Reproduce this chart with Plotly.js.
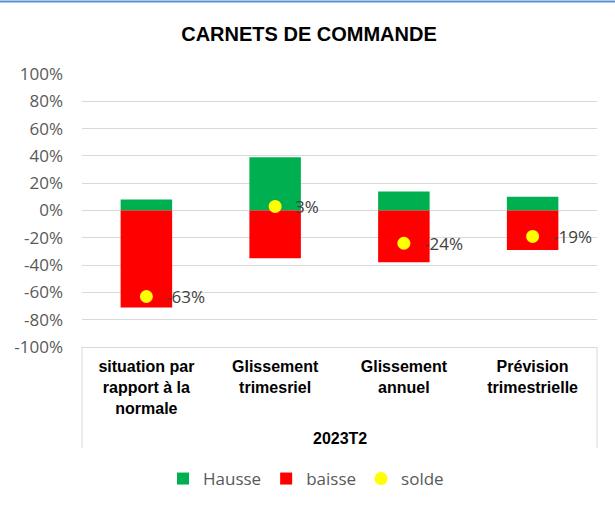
<!DOCTYPE html>
<html>
<head>
<meta charset="utf-8">
<script src="https://cdn.plot.ly/plotly-3.0.1.min.js"></script>
<style>
html,body{margin:0;padding:0;background:#fff;}
#chart{width:615px;height:506px;}
</style>
</head>
<body>
<div id="chart"></div>
<script>
var categories = [
  "situation par<br>rapport à la<br>normale",
  "Glissement<br>trimesriel",
  "Glissement<br>annuel",
  "Prévision<br>trimestrielle"
];
var hausse = [0.08, 0.39, 0.14, 0.10];
var baisse = [-0.71, -0.35, -0.38, -0.29];
var solde = [-0.63, 0.03, -0.24, -0.19];
var soldeLabels = ["-63%", "3%", "-24%", "-19%"];
var groupLabel = "2023T2";
var yTickVals = [-1, -0.8, -0.6, -0.4, -0.2, 0, 0.2, 0.4, 0.6, 0.8, 1];
var yTickText = ["-100%", "-80%", "-60%", "-40%", "-20%", "0%", "20%", "40%", "60%", "80%", "100%"];

var W = 615, H = 506;
var mL = 82, mR = 18, mT = 74, mB = 159;
var plotH = H - mT - mB;
function py(pix) { return (H - mB - pix) / plotH; }

var traces = [
  {type: "bar", name: "Hausse", x: categories, y: hausse, width: 0.4,
   marker: {color: "#00B050", line: {width: 0}}, hoverinfo: "none"},
  {type: "bar", name: "baisse", x: categories, y: baisse, width: 0.4,
   marker: {color: "#FF0000", line: {width: 0}}, hoverinfo: "none"},
  {type: "scatter", mode: "markers", name: "solde", x: categories, y: solde,
   marker: {color: "#FFFF00", size: 13, line: {width: 0}}, hoverinfo: "none"}
];

var annotations = categories.map(function (c, i) {
  return {x: c, y: solde[i], xref: "x", yref: "y", text: soldeLabels[i],
    showarrow: false, xanchor: "left", yanchor: "middle", xshift: 18,
    font: {family: "Open Sans", size: 17, color: "#404040"}};
});
annotations.push({x: 0.5, y: py(438), xref: "paper", yref: "paper", text: "<b>" + groupLabel + "</b>",
  showarrow: false, xanchor: "center", yanchor: "middle",
  font: {family: "Liberation Sans", size: 16, color: "#000000"}});

var layout = {
  width: W, height: H,
  margin: {l: mL, r: mR, t: mT, b: mB, pad: 0},
  paper_bgcolor: "#ffffff", plot_bgcolor: "#ffffff",
  barmode: "relative",
  showlegend: true,
  title: {text: "<b>CARNETS DE COMMANDE</b>", x: 309 / W, xanchor: "center",
    y: 1 - 34 / H, yanchor: "middle", yref: "container",
    font: {family: "Liberation Sans", size: 20, color: "#000000"}},
  xaxis: {type: "category", range: [-0.5, 3.5], showgrid: false, zeroline: false,
    showline: true, linecolor: "#d9d9d9", linewidth: 1, ticks: "",
    tickfont: {family: "Liberation Sans", size: 16, color: "#000000", weight: "bold"},
    ticklabelstandoff: 5, fixedrange: true},
  yaxis: {range: [-1, 1], tickvals: yTickVals, ticktext: yTickText,
    showgrid: true, gridcolor: "#d9d9d9", gridwidth: 1,
    zeroline: true, zerolinecolor: "#d9d9d9", zerolinewidth: 1,
    showline: false, ticks: "", ticklabelstandoff: 18,
    tickfont: {family: "Open Sans", size: 17, color: "#595959"}, fixedrange: true},
  legend: {orientation: "h", x: 306 / W, xref: "container", xanchor: "center",
    y: 1 - 479 / H, yref: "container", yanchor: "middle",
    font: {family: "Open Sans", size: 17, color: "#595959"},
    itemclick: false, itemdoubleclick: false, traceorder: "normal"},
  annotations: annotations,
  shapes: [
    {type: "line", xref: "paper", yref: "paper", x0: 0, x1: 0, y0: 0, y1: py(448),
     line: {color: "#d9d9d9", width: 1}},
    {type: "line", xref: "paper", yref: "paper", x0: 1, x1: 1, y0: 0, y1: py(448),
     line: {color: "#d9d9d9", width: 1}},
    {type: "line", xref: "paper", yref: "paper", x0: -mL / (W - mL - mR), x1: (W - mL) / (W - mL - mR),
     y0: py(1.5), y1: py(1.5), line: {color: "#5b8fd0", width: 2}}
  ]
};

Plotly.newPlot("chart", traces, layout, {displayModeBar: false, staticPlot: true});
</script>
</body>
</html>
